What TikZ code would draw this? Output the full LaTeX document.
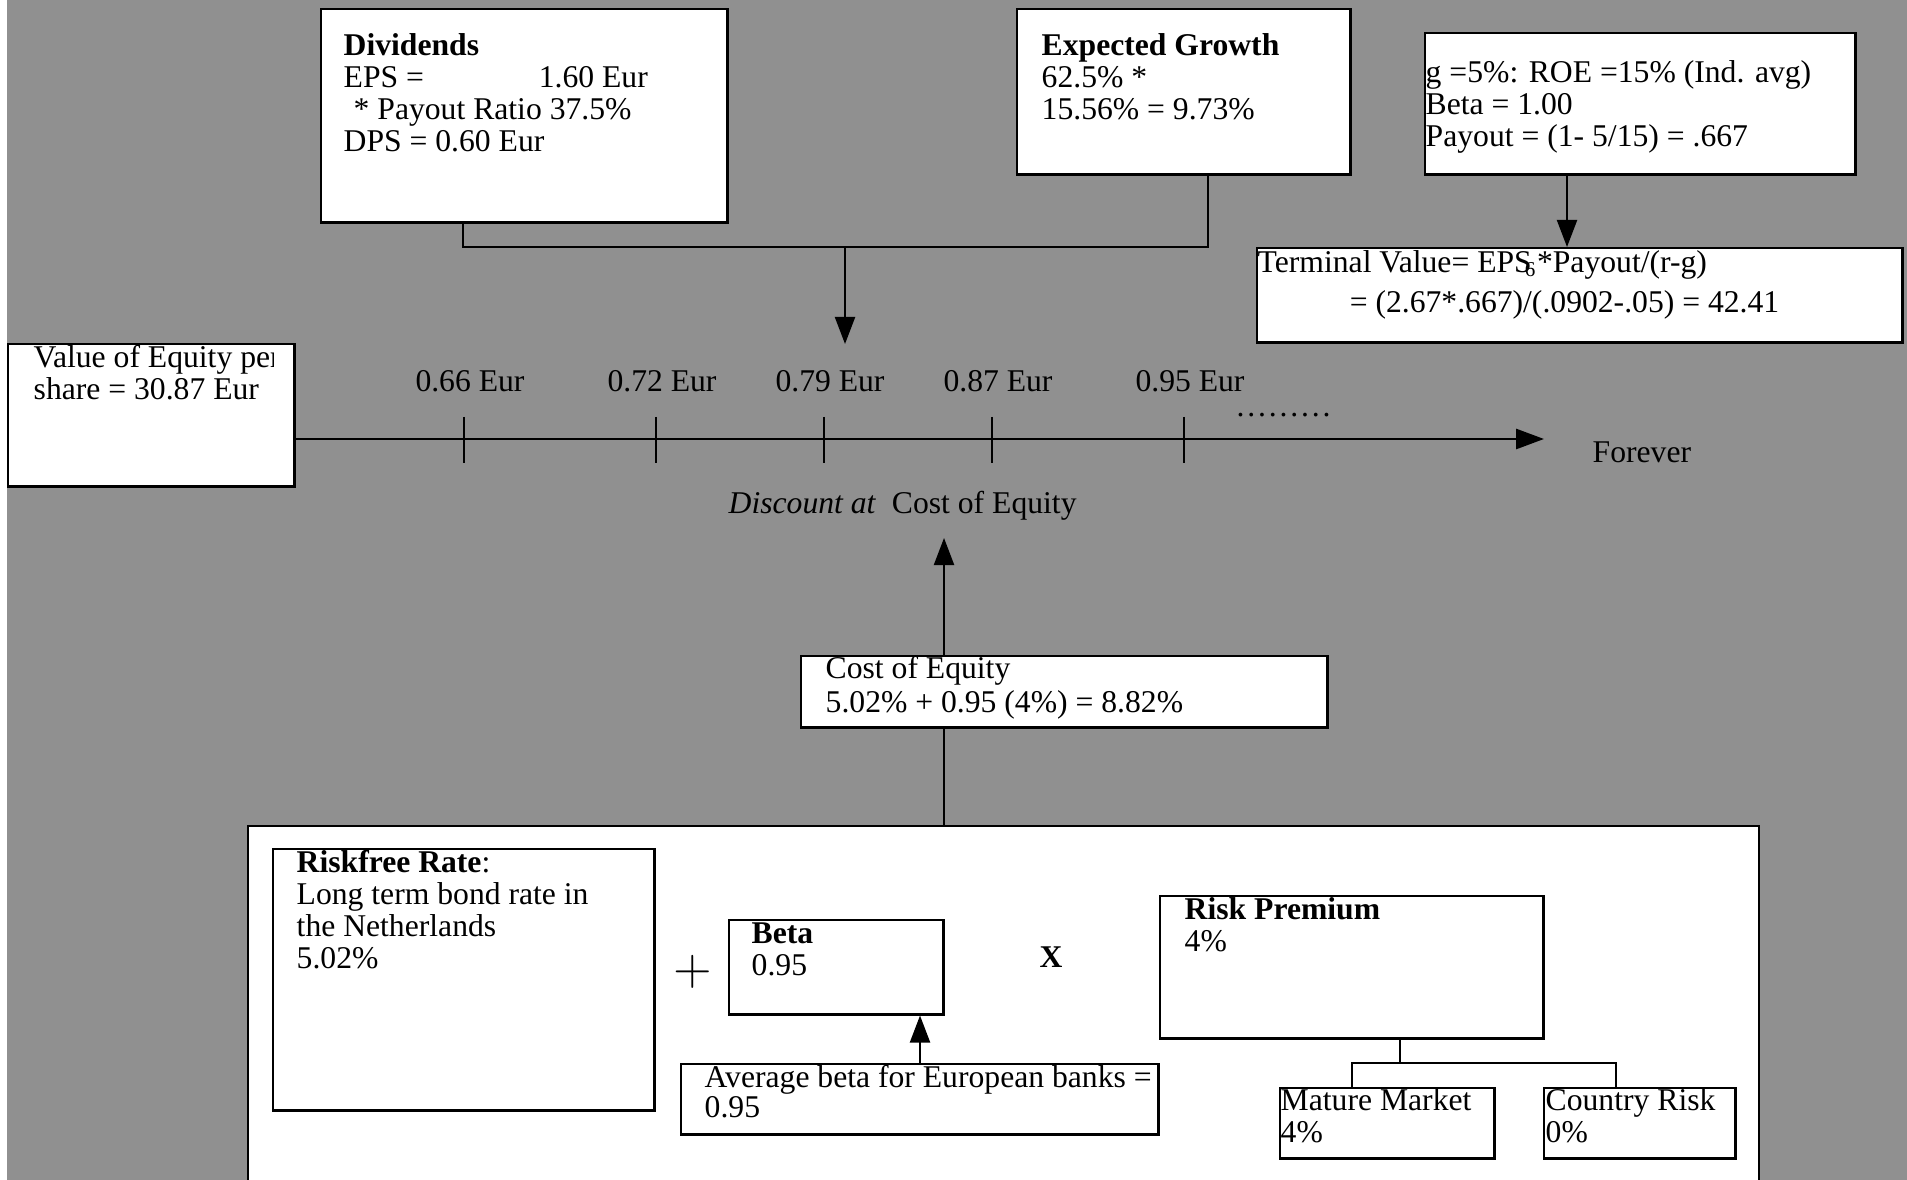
\documentclass[tikz,border=0pt]{standalone}
\usepackage{fontspec}
\setmainfont{Liberation Serif}
\usetikzlibrary{arrows.meta}
\definecolor{bggray}{RGB}{144,144,144}

\begin{document}
\begin{tikzpicture}[x=0.01cm,y=-0.01cm,
    box/.style={draw,fill=white,line width=0.7pt,inner sep=0pt,anchor=north west},
    txt/.style={inner sep=0pt,anchor=north west,align=left,font=\fontsize{9}{9.1}\selectfont},
    lbl/.style={inner sep=0pt,anchor=base,font=\fontsize{9}{9.1}\selectfont},
    arr/.style={line width=0.6pt,-{Triangle[length=0.27cm,width=0.2cm]}},
    link/.style={line width=0.6pt}]
    \useasboundingbox (0,0) rectangle (1907,1180);
    \clip (0,0) rectangle (1907,1180);
    \fill[white] (0,0) rectangle (1907,1180);
    \fill[bggray] (7,0) rectangle (1907,1180);

    % dividends and growth
    \node[box,minimum width=4.06cm,minimum height=2.13cm] (div) at (320,8) {};
    \node[txt] (divtxt) at (343,32.6) {\strut\textbf{Dividends}\\\makebox[1.95cm][l]{EPS =}1.60 Eur\\\hspace*{0.1cm}* Payout Ratio 37.5\%\\DPS = 0.60 Eur};
    \node[box,minimum width=3.33cm,minimum height=1.65cm] (grow) at (1016,8) {};
    \node[txt] (growtxt) at (1041,32.6) {\strut\textbf{Expected Growth}\\62.5\% *\\15.56\% = 9.73\%};

    % terminal value
    \node[box,minimum width=4.30cm,minimum height=1.41cm] (tvin) at (1424,32) {};
    \node[txt] (tvintxt) at (1425,59.6) {\strut g =5\%: ROE =15\% (Ind. avg)\\Beta = 1.00\\Payout = (1- 5/15) = .667};
    \node[box,minimum width=6.45cm,minimum height=0.94cm] (tv) at (1256,247) {};
    \node[txt] (tvtxt) at (1257,249.6) {\strut Terminal Value= EPS\kern-2pt\textsubscript{6}*Payout/(r-g)\\[2.3pt]\hspace*{0.92cm}= (2.67*.667)/(.0902-.05) = 42.41};
    \coordinate (tvx) at (1567,0);
    \draw[arr] (tvin.south -| tvx) -- (tv.north -| tvx);

    \coordinate (tapl) at (463,247);
    \coordinate (tapr) at (1208,247);
    \coordinate (drop) at (845,247);
    \coordinate (dropend) at (845,344);
    \draw[link] (div.south -| tapl) |- (tapr) -- (grow.south -| tapr);
    \draw[arr] (drop) -- (dropend);

    % time line
    \node[box,minimum width=2.86cm,minimum height=1.42cm] (val) at (7,343) {};
    \begin{scope}
        \clip (val.north west) rectangle ([xshift=-0.22cm]val.south east);
        \node[txt] (valtxt) at (33,344.6) {\strut Value of Equity per\\share = 30.87 Eur};
    \end{scope}
    \coordinate (t0) at (293,439);
    \coordinate (tend) at (1544,439);
    \draw[line width=0.8pt,-{Triangle[length=0.28cm,width=0.2cm]}] (t0) -- (tend);
    \foreach \x/\v in {464/0.66,656/0.72,824/0.79,992/0.87,1184/0.95}{
        \draw[line width=0.5pt] (\x,417) -- (\x,463);
        \node[lbl] (cf\x) at (\x+6,392) {\v{} Eur};
    }
    \node[lbl,anchor=base west] (dots) at (1236,417) {.\kern0.8pt.\kern0.8pt.\kern0.8pt.\kern0.8pt.\kern0.8pt.\kern0.8pt.\kern0.8pt.\kern0.8pt.};
    \node[lbl,anchor=base west] (forever) at (1592,463) {Forever};
    \node[lbl,anchor=base west] (disc) at (728,514) {\textit{Discount at}\enspace Cost of Equity};

    % cost of equity
    \node[box,minimum width=5.26cm,minimum height=0.71cm] (coe) at (800,655) {};
    \node[txt] (coetxt) at (825,655.6) {\strut Cost of Equity\\[0.6pt]5.02\% + 0.95 (4\%) = 8.82\%};
    \coordinate (coex) at (944,538);
    \draw[arr] (coe.north -| coex) -- (coex);

    \node[box,minimum width=15.10cm,minimum height=4.00cm] (capm) at (247,825) {};
    \draw[link] (coe.south -| coex) -- (capm.north -| coex);

    \node[box,minimum width=3.81cm,minimum height=2.61cm] (rf) at (272,848) {};
    \node[txt] (rftxt) at (296,849.6) {\strut\textbf{Riskfree Rate}:\\Long term bond rate in\\the Netherlands\\5.02\%};
    \node[inner sep=0pt,font=\fontsize{14}{14}\selectfont] (plus) at (693,972) {$+$};

    \node[box,minimum width=2.14cm,minimum height=0.94cm] (beta) at (728,919) {};
    \node[txt] (betatxt) at (751,920.6) {\strut\textbf{Beta}\\0.95};
    \node[box,minimum width=4.77cm,minimum height=0.70cm] (avg) at (680,1063) {};
    \begin{scope}
        \clip (avg.north west) rectangle ([xshift=-0.06cm]avg.south east);
        \node[txt] (avgtxt) at (704,1064.6) {\strut Average beta for European banks =\\[-0.6pt]0.95};
    \end{scope}
    \coordinate (bx) at (920,0);
    \draw[arr] (avg.north -| bx) -- (beta.south -| bx);
    \node[lbl] (times) at (1051,967) {\textbf{X}};

    % risk premium
    \node[box,minimum width=3.83cm,minimum height=1.42cm] (rp) at (1159,895) {};
    \node[txt] (rptxt) at (1184,896.6) {\strut\textbf{Risk Premium}\\4\%};
    \node[box,minimum width=2.14cm,minimum height=0.70cm] (mm) at (1279,1087) {};
    \node[txt] (mmtxt) at (1280,1087.6) {\strut Mature Market\\4\%};
    \node[box,minimum width=1.91cm,minimum height=0.70cm] (cr) at (1543,1087) {};
    \node[txt] (crtxt) at (1545,1087.6) {\strut Country Risk\\0\%};
    \coordinate (rpfork) at (1400,1063);
    \coordinate (mmx) at (1352,1063);
    \coordinate (crx) at (1616,1063);
    \draw[link] (rp.south -| rpfork) -- (rpfork);
    \draw[link] (mm.north -| mmx) |- (crx) -- (cr.north -| crx);
\end{tikzpicture}
\end{document}
